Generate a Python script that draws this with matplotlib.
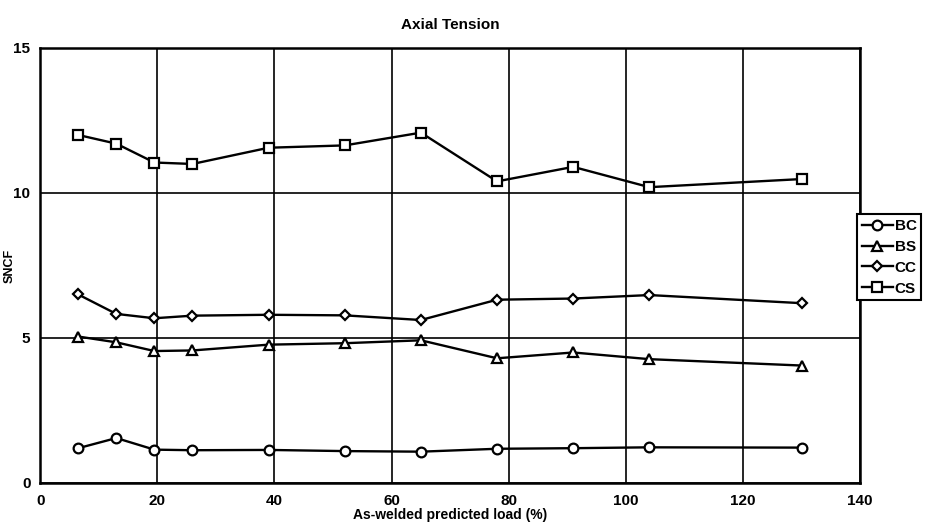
import matplotlib
matplotlib.use("Agg")
import matplotlib.pyplot as plt

# load points (% of as-welded predicted load)
load_pct = [6.5, 13, 19.5, 26, 39, 52, 65, 78, 91, 104, 130]

# SNCF per location
bc = [1.2, 1.55, 1.15, 1.13, 1.14, 1.1, 1.08, 1.18, 1.2, 1.23, 1.22]
bs = [5.05, 4.85, 4.55, 4.57, 4.77, 4.82, 4.92, 4.3, 4.5, 4.27, 4.05]
cc = [6.5, 5.83, 5.68, 5.77, 5.8, 5.78, 5.62, 6.32, 6.36, 6.48, 6.2]
cs = [12.0, 11.7, 11.05, 11.0, 11.56, 11.64, 12.08, 10.4, 10.9, 10.2, 10.48]

series = [("BC", bc, "o"), ("BS", bs, "^"), ("CC", cc, "D"), ("CS", cs, "s")]
x_ticks = [0, 20, 40, 60, 80, 100, 120, 140]
y_ticks = [0, 5, 10, 15]

plt.rcParams["font.family"] = ["Liberation Sans", "DejaVu Sans"]
plt.rcParams["font.weight"] = "bold"

fig = plt.figure(figsize=(9.34, 5.27), dpi=100)
ax = fig.add_axes([0.043, 0.0835, 0.878, 0.8255])

for label, values, marker in series:
    ax.plot(
        load_pct, values,
        color="black", linewidth=1.7,
        marker=marker, markersize=5.5 if marker == "D" else 7,
        markerfacecolor="white", markeredgecolor="black", markeredgewidth=1.6,
        label=label, zorder=3,
    )

ax.set_xlim(0, 140)
ax.set_ylim(0, 15)
ax.set_xticks(x_ticks)
ax.set_yticks(y_ticks)
ax.tick_params(length=0, labelsize=11)
ax.tick_params(axis="x", pad=8)
ax.tick_params(axis="y", pad=7)
ax.grid(True, color="black", linewidth=1.2)
for spine in ax.spines.values():
    spine.set_linewidth(1.8)

ax.set_title("Axial Tension", fontsize=11, fontweight="bold", pad=14)
ax.set_xlabel("As-welded predicted load (%)", fontsize=10, fontweight="bold", labelpad=0)
ax.set_ylabel("SNCF", fontsize=9, fontweight="bold")
ax.yaxis.set_label_coords(-0.03, 0.5)

leg = fig.legend(
    loc="upper left", bbox_to_anchor=(0.918, 0.593),
    fontsize=11, frameon=True, fancybox=False, framealpha=1,
    handlelength=2.0, handletextpad=0.15, labelspacing=0.45,
    borderpad=0.3, borderaxespad=0,
)
leg.get_frame().set_edgecolor("black")
leg.get_frame().set_linewidth(1.5)
for text in leg.get_texts():
    text.set_fontweight("bold")

fig.savefig("out.png", dpi=100)
